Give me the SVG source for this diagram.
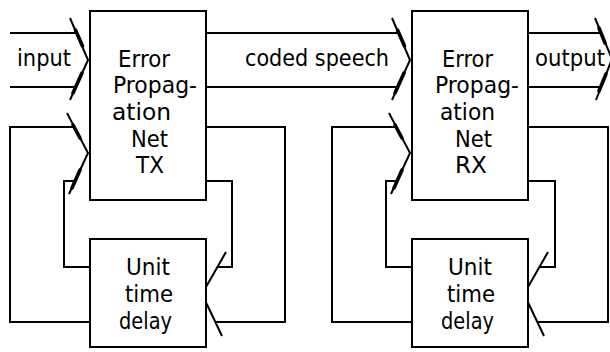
<svg xmlns="http://www.w3.org/2000/svg" width="610" height="352" viewBox="0 0 610 352">
<style>
.box{fill:#fff;stroke:#000;stroke-width:2}
.ln{fill:none;stroke:#000;stroke-width:2;stroke-linejoin:miter}
.hd{fill:none;stroke:#000;stroke-width:2}
.tk{fill:none;stroke:#000;stroke-width:3.6;stroke-linecap:round}
text{font-family:"DejaVu Sans",sans-serif;font-size:23px;fill:#000}
</style>
<defs>
<g id="inArrow">
<polyline class="hd" points="70,18 88,60 70,100"/>
<line class="tk" x1="75.5" y1="30" x2="82.5" y2="46"/>
<line class="tk" x1="82" y1="73" x2="73" y2="93"/>
</g>
<g id="fbArrow">
<polyline class="hd" points="67,113 88,153 69,194"/>
<line class="tk" x1="73" y1="125" x2="80" y2="138"/>
<line class="tk" x1="80" y1="170" x2="72" y2="188"/>
</g>
<g id="dlArrow">
<polyline class="hd" points="226,252 202,294 222,336"/>
</g>
</defs>
<g id="connectors">
<line class="ln" x1="10" y1="33" x2="76" y2="33"/>
<line class="ln" x1="10" y1="87" x2="76" y2="87"/>
<use href="#inArrow"/>
<polyline class="ln" points="74,127 10,127 10,322 90,322"/>
<polyline class="ln" points="75,181 64,181 64,267 90,267"/>
<use href="#fbArrow"/>
<polyline class="ln" points="206,127 285,127 285,322 215,322"/>
<polyline class="ln" points="206,181 232,181 232,267 218,267"/>
<use href="#dlArrow"/>
<line class="ln" x1="206" y1="33" x2="398" y2="33"/>
<line class="ln" x1="206" y1="87" x2="398" y2="87"/>
<use href="#inArrow" transform="translate(322,0)"/>
<g transform="translate(322,0)">
<polyline class="ln" points="74,127 10,127 10,322 90,322"/>
<polyline class="ln" points="75,181 64,181 64,267 90,267"/>
<use href="#fbArrow"/>
<polyline class="ln" points="206,127 286,127 286,322 215,322"/>
<polyline class="ln" points="206,181 233,181 233,267 218,267"/>
<use href="#dlArrow"/>
</g>
<line class="ln" x1="528" y1="33" x2="600" y2="33"/>
<line class="ln" x1="528" y1="87" x2="600" y2="87"/>
<polyline class="hd" points="595,18 612,59 596,100"/>
<line class="tk" x1="599" y1="28" x2="605" y2="43"/>
<line class="tk" x1="606" y1="74" x2="599" y2="91"/>
<text x="17" y="66" font-size="22" textLength="54" lengthAdjust="spacingAndGlyphs">input</text>
<text x="245" y="66" font-size="22" textLength="144" lengthAdjust="spacingAndGlyphs">coded speech</text>
<text x="535" y="66" font-size="22" textLength="70" lengthAdjust="spacingAndGlyphs">output</text>
</g>
<g id="tx">
<rect class="box" x="90" y="11" width="116" height="189"/>
<text x="118" y="67" textLength="52" lengthAdjust="spacingAndGlyphs">Error</text>
<text x="113" y="93" textLength="84" lengthAdjust="spacingAndGlyphs">Propag-</text>
<text x="112" y="120" textLength="59" lengthAdjust="spacingAndGlyphs">ation</text>
<text x="131" y="147" textLength="37" lengthAdjust="spacingAndGlyphs">Net</text>
<text x="136" y="173" textLength="28" lengthAdjust="spacingAndGlyphs">TX</text>
</g>
<g id="tx-delay">
<rect class="box" x="90" y="239" width="116" height="108"/>
<text x="126" y="275" textLength="44" lengthAdjust="spacingAndGlyphs">Unit</text>
<text x="125" y="302" textLength="48" lengthAdjust="spacingAndGlyphs">time</text>
<text x="119" y="329" textLength="53" lengthAdjust="spacingAndGlyphs">delay</text>
</g>
<g id="rx">
<rect class="box" x="412" y="11" width="116" height="189"/>
<text x="442" y="67" textLength="51" lengthAdjust="spacingAndGlyphs">Error</text>
<text x="435" y="93" textLength="84" lengthAdjust="spacingAndGlyphs">Propag-</text>
<text x="440" y="120" textLength="55" lengthAdjust="spacingAndGlyphs">ation</text>
<text x="455" y="147" textLength="37" lengthAdjust="spacingAndGlyphs">Net</text>
<text x="455" y="173" textLength="32" lengthAdjust="spacingAndGlyphs">RX</text>
</g>
<g id="rx-delay">
<rect class="box" x="412" y="239" width="116" height="108"/>
<text x="448" y="275" textLength="44" lengthAdjust="spacingAndGlyphs">Unit</text>
<text x="447" y="302" textLength="48" lengthAdjust="spacingAndGlyphs">time</text>
<text x="441" y="329" textLength="53" lengthAdjust="spacingAndGlyphs">delay</text>
</g>
</svg>
